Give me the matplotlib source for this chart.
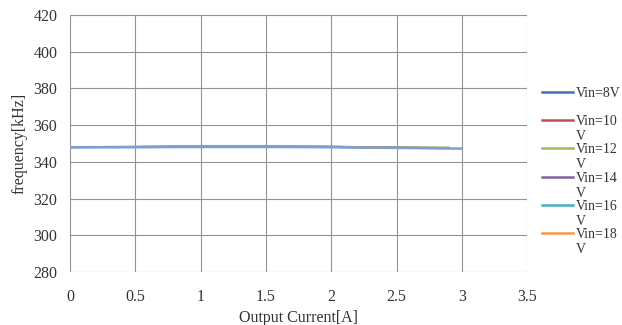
import matplotlib

matplotlib.use("Agg")
import matplotlib.pyplot as plt
from matplotlib.lines import Line2D

plt.rcParams["font.family"] = ["Liberation Serif", "DejaVu Serif"]

# output current [A] and switching frequency [kHz] per input voltage
current_8v = [0.0, 0.5, 1.0, 1.5, 2.0, 2.5, 3.0]
current_other = [0.0, 0.5, 1.0, 1.5, 2.0, 2.5, 2.9]

freq_8v = [348.0, 348.0, 348.1, 348.1, 348.0, 347.6, 347.2]
freq_10v = [348.0, 348.2, 348.5, 348.5, 348.3, 347.8, 347.5]
freq_12v = [348.0, 348.1, 348.3, 348.3, 348.2, 347.9, 347.8]
freq_14v = [348.0, 348.1, 348.3, 348.3, 348.1, 347.7, 347.6]
freq_16v = [347.9, 348.0, 348.2, 348.2, 348.0, 347.6, 347.5]
freq_18v = [348.0, 348.2, 348.4, 348.4, 348.2, 347.6, 347.4]

labels = ["Vin=8V", "Vin=10\nV", "Vin=12\nV", "Vin=14\nV", "Vin=16\nV", "Vin=18\nV"]
colors = ["#4472b4", "#c0504d", "#9bbb59", "#8064a2", "#4bacc6", "#f79646"]

x_ticks = [0, 0.5, 1, 1.5, 2, 2.5, 3, 3.5]
x_ticklabels = ["0", "0.5", "1", "1.5", "2", "2.5", "3", "3.5"]
y_ticks = [280, 300, 320, 340, 360, 380, 400, 420]

fig = plt.figure(figsize=(6.22, 3.25), dpi=100)
ax = fig.add_axes([0.1125, 0.163, 0.735, 0.791])

series = [
    (current_8v, freq_8v),
    (current_other, freq_10v),
    (current_other, freq_12v),
    (current_other, freq_14v),
    (current_other, freq_16v),
    (current_other, freq_18v),
]
for i, (xs, ys) in enumerate(series[1:], start=1):
    ax.plot(xs, ys, color=colors[i], lw=1.4, zorder=3)
# the 8V trace ends up drawn over the rest in the reference
ax.plot(series[0][0], series[0][1], color="#7f9fd4", lw=1.8, zorder=4)

ax.set_xlim(0, 3.5)
ax.set_ylim(280, 420)
ax.set_xticks(x_ticks)
ax.set_xticklabels(x_ticklabels)
ax.set_yticks(y_ticks)
ax.tick_params(length=0, labelsize=11.5, colors="#333333")
ax.tick_params(axis="x", pad=12)
ax.tick_params(axis="y", pad=9)
ax.grid(True, color="#929292", lw=0.8)
for s in ax.spines.values():
    s.set_visible(False)
ax.set_xlabel("Output Current[A]", fontsize=11.5, labelpad=4, color="#333333")
ax.set_ylabel("frequency[kHz]", fontsize=11.5, labelpad=4, color="#333333")

# legend to the right, handles aligned with the first line of text
leg_y = [0.717, 0.631, 0.545, 0.455, 0.369, 0.283]
for lab, col, y in zip(labels, colors, leg_y):
    fig.add_artist(Line2D([0.872, 0.921], [y, y], color=col, lw=1.8,
                          transform=fig.transFigure))
    fig.text(0.925, y + 0.016, lab, fontsize=10, va="top", ha="left",
             linespacing=1.2, color="#333333")

fig.savefig("out.png", dpi=100)
